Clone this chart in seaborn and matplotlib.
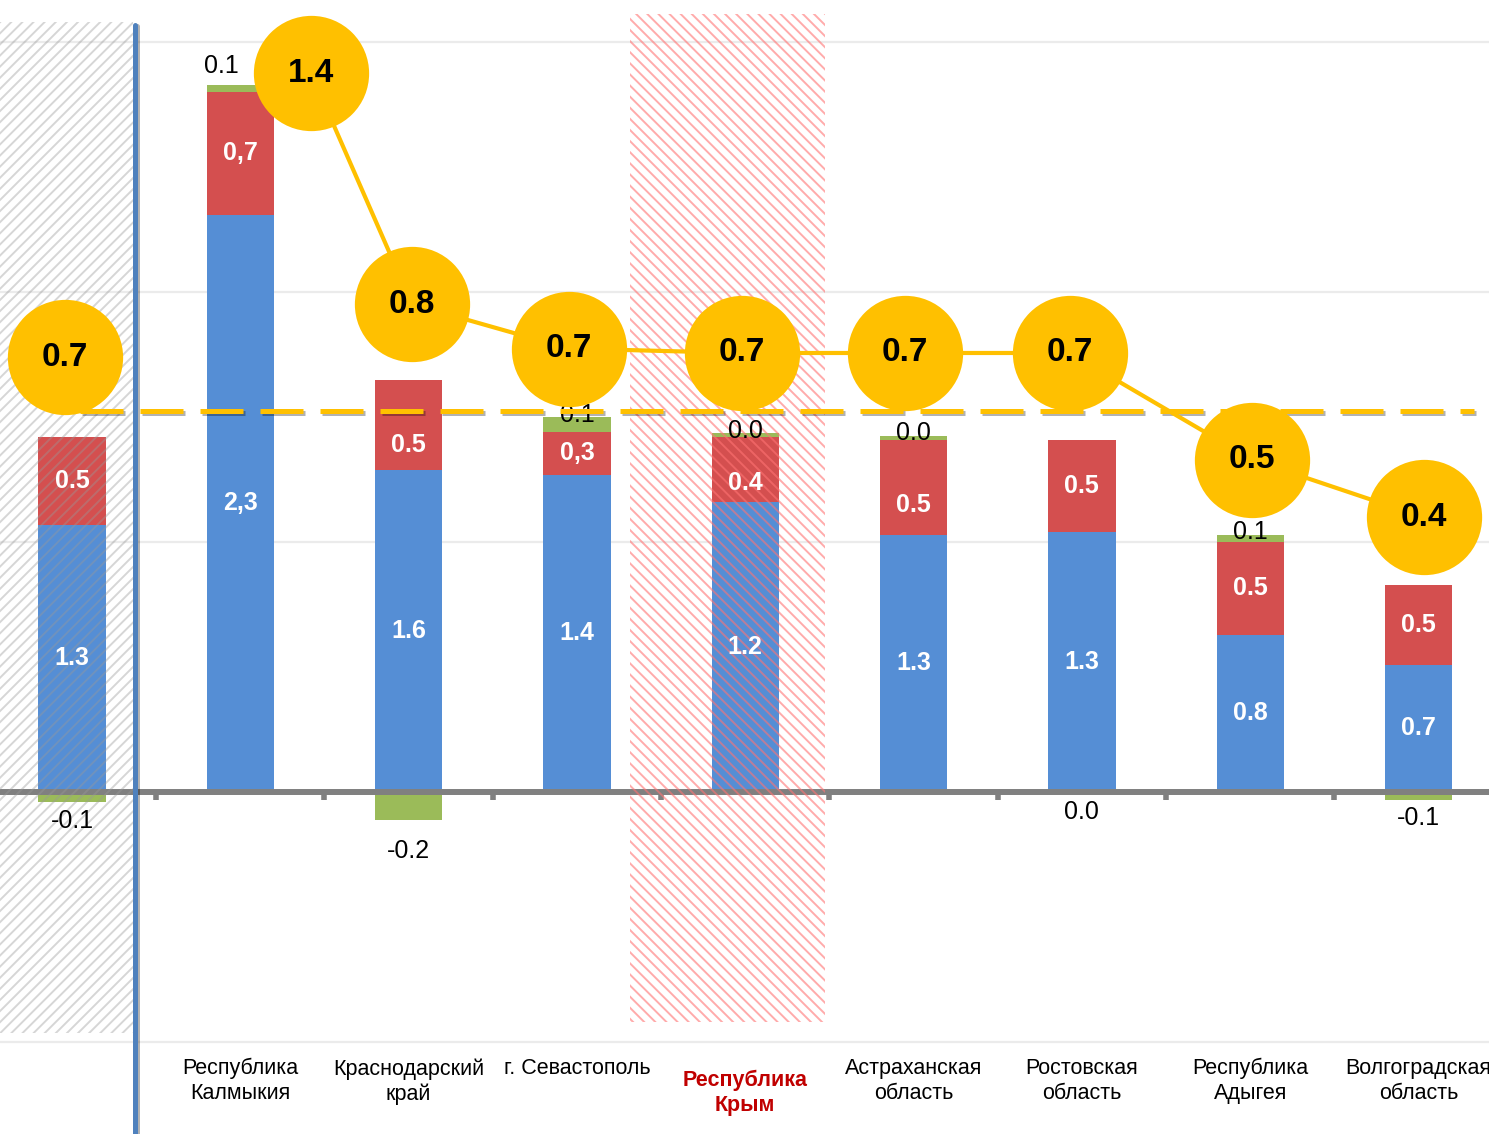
import numpy as np
import pandas as pd
import matplotlib
matplotlib.use('Agg')
import matplotlib.pyplot as plt
import matplotlib.patheffects as pe
from matplotlib.patches import Rectangle
import seaborn as sns

# данные
regions = ['', 'Республика\nКалмыкия', 'Краснодарский\nкрай', 'г. Севастополь',
           'Республика\nКрым', 'Астраханская\nобласть', 'Ростовская\nобласть',
           'Республика\nАдыгея', 'Волгоградская\nобласть']
blue = [1.07, 2.31, 1.29, 1.27, 1.16, 1.03, 1.04, 0.63, 0.51]
red = [0.35, 0.49, 0.36, 0.17, 0.26, 0.38, 0.37, 0.37, 0.32]
green = [-0.04, 0.03, -0.11, 0.06, 0.016, 0.016, -0.004, 0.03, -0.03]
blue_labels = ['1.3', '2,3', '1.6', '1.4', '1.2', '1.3', '1.3', '0.8', '0.7']
red_labels = ['0.5', '0,7', '0.5', '0,3', '0.4', '0.5', '0.5', '0.5', '0.5']
green_labels = ['-0.1', '0.1', '-0.2', '0.1', '0.0', '0.0', '0.0', '0.1', '-0.1']
rate = [0.72, 1.36, 0.84, 0.74, 0.73, 0.73, 0.73, 0.49, 0.36]
rate_avg = 0.6
highlight = 4  # Республика Крым

C_BLUE = '#558ED5'
C_RED = '#D44F4F'
C_GREEN = '#9BBB59'
C_YEL = '#FFC000'

sns.set_style('white')
plt.rcParams['font.family'] = ['Liberation Sans', 'DejaVu Sans']
plt.rcParams['hatch.linewidth'] = 1.4

df = pd.DataFrame({'region': regions, 'blue': blue, 'red': red, 'green': green})
x = np.arange(len(regions))
blue_a = np.array(blue)
red_a = np.array(red)
green_a = np.array(green)

fig = plt.figure(figsize=(14.89, 11.34), dpi=100)
ax = fig.add_axes([0, 0, 1, 1])

# сетка
for gy in [-1, 1, 2, 3]:
    ax.axhline(gy, color='#EBEBEB', lw=1.6, zorder=0)

sns.barplot(data=df, x='region', y='blue', color=C_BLUE, saturation=1,
            width=0.4, linewidth=0, ax=ax, zorder=2)
bars_blue = ax.containers[0]
bars_red = ax.bar(x, red_a, bottom=blue_a, width=0.4, color=C_RED, lw=0, zorder=2)
g_bottom = np.where(green_a >= 0, blue_a + red_a, 0)
bars_green = ax.bar(x, green_a, bottom=g_bottom, width=0.4, color=C_GREEN, lw=0, zorder=2)

ax.bar_label(bars_blue, labels=blue_labels, label_type='center', color='white',
             fontsize=18, fontweight='bold', zorder=6)
red_txt = ax.bar_label(bars_red, labels=red_labels, label_type='center', color='white',
                       fontsize=18, fontweight='bold', zorder=6)
# немного ниже там, где мешает пунктир
for i, dy in [(2, -15), (4, -10), (5, -13)]:
    red_txt[i].xyann = (0, dy)
pos_lab = [l if v >= 0 else '' for l, v in zip(green_labels, green)]
neg_lab = [l if v < 0 else '' for l, v in zip(green_labels, green)]
g_txt = ax.bar_label(bars_green, labels=pos_lab, padding=-7, fontsize=18,
                     color='black', zorder=6)
g_txt[1].xyann = (-14, 5)
n_txt = ax.bar_label(bars_green, labels=neg_lab, padding=5, fontsize=18,
                     color='black', zorder=6)
n_txt[2].xyann = (0, -14)

# нулевая линия и засечки
ax.axhline(0, color='#808080', lw=4.3, zorder=3)
ax.vlines(x[:-1] + 0.5, -0.03, 0, color='#808080', lw=4, zorder=3)

# штриховка областей
ax.add_patch(Rectangle((-0.43, -0.964), 0.792, 4.044, fill=False, lw=0,
                       hatch='///', edgecolor=(0.6, 0.6, 0.6, 0.4), zorder=4))
ax.add_patch(Rectangle((3.316, -0.92), 1.158, 4.032, fill=False, lw=0,
                       hatch='\\\\\\', edgecolor=(1.0, 0.45, 0.45, 0.6), zorder=4))

# вертикальная линия
ax.axvline(0.374, ymin=0, ymax=0.978, color='#4F81BD', lw=3.6, zorder=5,
           path_effects=[pe.SimpleLineShadow(offset=(1.5, -1), alpha=0.3), pe.Normal()])

# подписи категорий
for i, name in enumerate(regions):
    if i == highlight:
        ax.text(i, -1.112, name, ha='center', va='top', fontsize=15.5,
                fontweight='bold', color='#C00000', linespacing=1.25)
    else:
        ax.text(i, -1.064, name, ha='center', va='top', fontsize=15.5,
                color='black', linespacing=1.25)

# вторая ось: темп
ax2 = ax.twinx()
ax2.set_ylim(-1.029, 1.525)
ax2.axhline(rate_avg, xmin=0.054, xmax=0.99, color=C_YEL, lw=3.6, dashes=(8.6, 3.4),
            zorder=3, path_effects=[pe.SimpleLineShadow(offset=(1.5, -2), alpha=0.3),
                                    pe.Normal()])
shift = [-0.04, 0.42, 0.02, -0.05, -0.02, -0.05, -0.07, 0.01, 0.03]
cx = x + np.array(shift)
sns.lineplot(x=cx[1:], y=rate[1:], ax=ax2, color=C_YEL, lw=3, marker='o',
             markersize=83, markeredgewidth=0, zorder=5)
sns.scatterplot(x=cx[:1], y=rate[:1], ax=ax2, color=C_YEL, s=83 ** 2,
                linewidth=0, zorder=5)
for xi, v in zip(cx, rate):
    ax2.text(xi, v, f'{v:.1f}', ha='center', va='center', fontsize=24,
             fontweight='bold', color='black', zorder=7)

for a in (ax, ax2):
    a.set_axis_off()
ax.set_xlim(-0.428, 8.419)
ax.set_ylim(-1.368, 3.168)

fig.savefig('out.png', dpi=100)
